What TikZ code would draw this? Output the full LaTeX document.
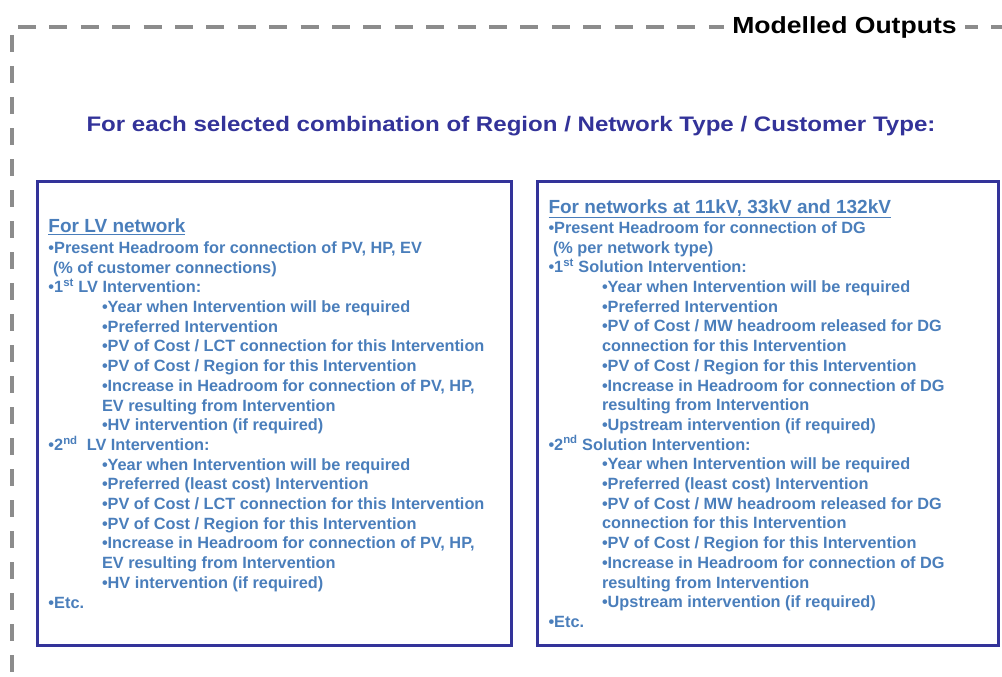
\documentclass[tikz,border=0pt]{standalone}
\usepackage{fontspec}
\setmainfont{Liberation Sans}
\usepackage{graphicx}
\definecolor{boxblue}{HTML}{333399}
\definecolor{textblue}{HTML}{4A7EBB}
\definecolor{dashgrey}{HTML}{8C8C8C}
\newcommand{\ind}{\hspace*{53.5bp}}
\tikzset{
	frameline/.style={line width=4bp, color=dashgrey},
	boxline/.style={line width=3bp, color=boxblue},
	boxhead/.style={anchor=base west, inner sep=0, color=textblue, font=\bfseries\fontsize{19bp}{22bp}\selectfont},
	bodytext/.style={anchor=north west, inner sep=0, align=left, color=textblue, font=\bfseries\fontsize{16.3bp}{19.7bp}\selectfont}
}

\begin{document}
\begin{tikzpicture}[x=1bp, y=-1bp]
		%%%%% START %%%%%
		\useasboundingbox (0, 0) rectangle (1002, 677);
		
		% dashed frame, open to the right and bottom
		\draw[frameline, dash pattern=on 18bp off 13.4bp] (18, 27) -- (1012, 27);
		\draw[frameline, dash pattern=on 17bp off 14bp] (11.7, 35) -- (11.7, 690);
		\node[anchor=base, fill=white, inner xsep=8bp, font=\bfseries\fontsize{23.3bp}{26bp}\selectfont] (outputs) at (844.5, 33.3) {\scalebox{1.14}[1]{Modelled Outputs}};
		
		\node[anchor=base, color=boxblue, font=\bfseries\fontsize{21bp}{24bp}\selectfont] (combination) at (511, 131.7) {\scalebox{1.147}[1]{For each selected combination of Region / Network Type / Customer Type:}};
		
		% LV box
		\draw[boxline] (37.5, 181) rectangle (511, 645);
		\node[boxhead] (lvhead) at (48.3, 232.7) {\underline{For LV network}};
		\node[bodytext] (lvtext) at (48.3, 239.5) {\strut•Present Headroom for connection of PV, HP, EV\\
			\ (\% of customer connections)\\
			•1\textsuperscript{st} LV Intervention:\\
			\ind•Year when Intervention will be required\\
			\ind•Preferred Intervention\\
			\ind•PV of Cost / LCT connection for this Intervention\\
			\ind•PV of Cost / Region for this Intervention\\
			\ind•Increase in Headroom for connection of PV, HP,\\
			\ind EV resulting from Intervention\\
			\ind•HV intervention (if required)\\
			•2\textsuperscript{nd}\ \ LV Intervention:\\
			\ind•Year when Intervention will be required\\
			\ind•Preferred (least cost) Intervention\\
			\ind•PV of Cost / LCT connection for this Intervention\\
			\ind•PV of Cost / Region for this Intervention\\
			\ind•Increase in Headroom for connection of PV, HP,\\
			\ind EV resulting from Intervention\\
			\ind•HV intervention (if required)\\
			•Etc.};
		
		% 11kV / 33kV / 132kV box
		\draw[boxline] (537.5, 181) rectangle (998, 645);
		\node[boxhead] (hvhead) at (548.3, 213.3) {\underline{For networks at 11kV, 33kV and 132kV}};
		\node[bodytext] (hvtext) at (548.3, 219.5) {\strut•Present Headroom for connection of DG\\
			\ (\% per network type)\\
			•1\textsuperscript{st} Solution Intervention:\\
			\ind•Year when Intervention will be required\\
			\ind•Preferred Intervention\\
			\ind•PV of Cost / MW headroom released for DG\\
			\ind connection for this Intervention\\
			\ind•PV of Cost / Region for this Intervention\\
			\ind•Increase in Headroom for connection of DG\\
			\ind resulting from Intervention\\
			\ind•Upstream intervention (if required)\\
			•2\textsuperscript{nd} Solution Intervention:\\
			\ind•Year when Intervention will be required\\
			\ind•Preferred (least cost) Intervention\\
			\ind•PV of Cost / MW headroom released for DG\\
			\ind connection for this Intervention\\
			\ind•PV of Cost / Region for this Intervention\\
			\ind•Increase in Headroom for connection of DG\\
			\ind resulting from Intervention\\
			\ind•Upstream intervention (if required)\\
			•Etc.};
		
		%%%%% END %%%%%
	\end{tikzpicture}
\end{document}
